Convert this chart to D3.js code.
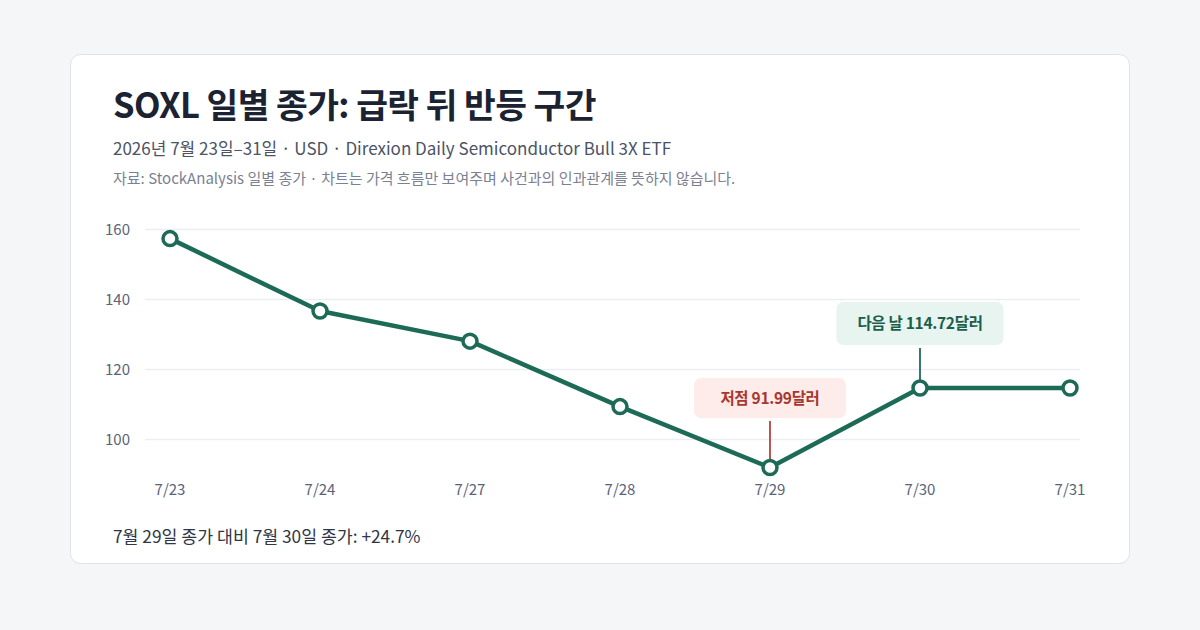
<!DOCTYPE html>
<html><head><meta charset="utf-8">
<script src="https://cdn.jsdelivr.net/npm/d3@7"></script>
<style>
html,body{margin:0;padding:0;background:#f5f6f8;}
svg{display:block;font-family:"Noto Sans CJK KR","Noto Sans",sans-serif;}
</style></head>
<body><svg id="c" width="1200" height="630"></svg>
<script>
const dates = ["7/23","7/24","7/27","7/28","7/29","7/30","7/31"];
const closes = [157.4, 136.7, 128.1, 109.4, 91.99, 114.72, 114.7];
const yTicks = [100, 120, 140, 160];
const title = "SOXL 일별 종가: 급락 뒤 반등 구간";
const subtitle = "2026년 7월 23일–31일 · USD ·  Direxion Daily Semiconductor Bull 3X ETF";
const source = "자료: StockAnalysis 일별 종가 · 차트는 가격 흐름만 보여주며 사건과의 인과관계를 뜻하지 않습니다.";
const footer = "7월 29일 종가 대비 7월 30일 종가: +24.7%";
const lowLabel = "저점 91.99달러";
const nextLabel = "다음 날 114.72달러";

const svg = d3.select("#c");
svg.append("rect").attr("x",70.5).attr("y",54.5).attr("width",1059).attr("height",509)
  .attr("rx",10).attr("fill","#fff").attr("stroke","#dfe2e7");

svg.append("text").attr("x",113).attr("y",118).attr("font-size",34.5).attr("font-weight",700)
  .attr("fill","#1b2333").attr("letter-spacing",-0.6).text(title);
svg.append("text").attr("x",113).attr("y",155).attr("font-size",17).attr("fill","#4b5365").text(subtitle);
svg.append("text").attr("x",113).attr("y",184).attr("font-size",15).attr("fill","#7b8192").text(source);

const x = d3.scalePoint().domain(dates).range([170,1070]);
const y = d3.scaleLinear().domain([90,160]).range([474.5,229.5]);

const g = svg.append("g");
g.selectAll("line.grid").data(yTicks).join("line").attr("class","grid")
  .attr("x1",145).attr("x2",1080).attr("y1",d=>y(d)).attr("y2",d=>y(d))
  .attr("stroke","#eceef3").attr("stroke-width",1.5);
g.selectAll("text.yl").data(yTicks).join("text").attr("class","yl")
  .attr("x",130).attr("y",d=>y(d)+5).attr("text-anchor","end").attr("font-size",15)
  .attr("fill","#5b6378").text(d=>d);
g.selectAll("text.xl").data(dates).join("text").attr("class","xl")
  .attr("x",d=>x(d)).attr("y",495).attr("text-anchor","middle").attr("font-size",15)
  .attr("fill","#5b6378").text(d=>d);

// annotations
const iLow = 4, iNext = 5;
const red = "#b3453a", green = "#1d6b57";
function annot(i, label, boxW, boxTop, boxH, fill, txt, lineColor){
  const cx = x(dates[i]);
  g.append("line").attr("x1",cx).attr("x2",cx).attr("y1",boxTop+boxH+3).attr("y2",y(closes[i])-7)
    .attr("stroke",lineColor).attr("stroke-width",1.8);
  g.append("rect").attr("x",cx-boxW/2).attr("y",boxTop).attr("width",boxW).attr("height",boxH)
    .attr("rx",7).attr("fill",fill);
  g.append("text").attr("x",cx).attr("y",boxTop+boxH/2+5.5).attr("text-anchor","middle")
    .attr("font-size",15.5).attr("font-weight",700).attr("fill",txt).attr("letter-spacing",-0.3).text(label);
}
annot(iLow, lowLabel, 152, 378, 40, "#fdecea", "#a8382e", red);
annot(iNext, nextLabel, 167, 302, 43, "#e7f4ef", "#1c5e4c", green);

const line = d3.line().x((d,i)=>x(dates[i])).y(d=>y(d));
g.append("path").datum(closes).attr("d",line).attr("fill","none").attr("stroke",green)
  .attr("stroke-width",4.5).attr("stroke-linejoin","round").attr("stroke-linecap","round");
g.selectAll("circle").data(closes).join("circle").attr("cx",(d,i)=>x(dates[i])).attr("cy",d=>y(d))
  .attr("r",7).attr("fill","#fff").attr("stroke",green).attr("stroke-width",3.5);

svg.append("text").attr("x",113).attr("y",543).attr("font-size",17.3).attr("fill","#2f3646").text(footer);
</script></body></html>
